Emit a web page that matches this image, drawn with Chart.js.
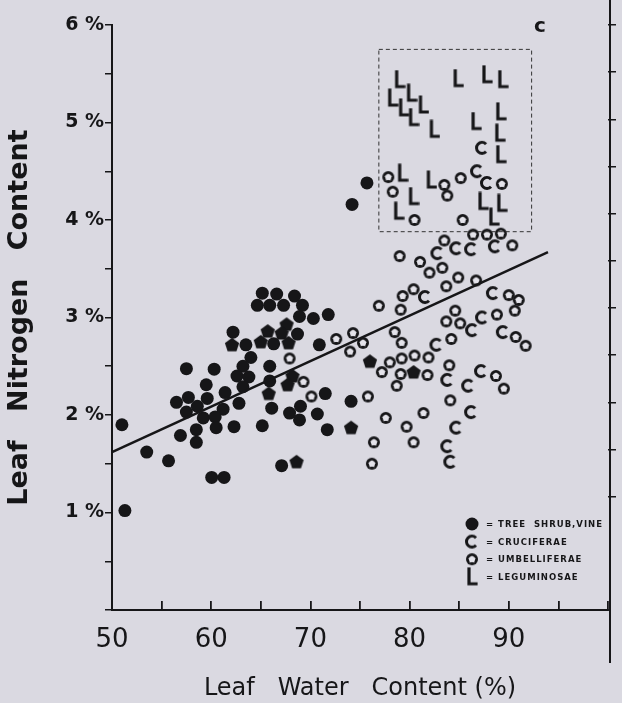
<!DOCTYPE html>
<html>
<head>
<meta charset="utf-8">
<script src="https://cdn.jsdelivr.net/npm/chart.js@4.4.1/dist/chart.umd.min.js"></script>
<style>
  html, body { margin: 0; padding: 0; background: #dad9e1; }
  #wrap { width: 622px; height: 703px; }
</style>
</head>
<body>
<div id="wrap"><canvas id="myChart" width="622" height="703"></canvas></div>
<script>
// tree, shrub, vine (filled circles)
const treeWater = [65.15, 66.6, 68.4, 64.65, 65.9, 67.3, 69.2, 68.9, 70.3, 71.8, 62.2, 63.5, 66.3, 68.7, 70.9,
    64.0, 63.2, 62.6, 63.8, 63.2, 65.9, 65.9, 57.5, 60.3, 59.5, 61.4, 56.5, 57.7, 59.6, 58.6, 57.5, 61.2, 62.8,
    59.2, 60.4, 58.5, 60.5, 62.3, 56.9, 58.5, 51.0, 53.5, 55.7, 60.05, 61.3, 65.15, 66.1, 67.9, 69.0, 68.9,
    70.7, 71.5, 71.7, 67.1, 74.1, 51.3, 75.7, 74.2];
const treeNitrogen = [3.25, 3.24, 3.22, 3.125, 3.125, 3.125, 3.125, 3.01, 2.99, 3.03, 2.85, 2.72, 2.73, 2.83, 2.72,
    2.59, 2.50, 2.40, 2.39, 2.29, 2.50, 2.35, 2.475, 2.47, 2.31, 2.23, 2.13, 2.18, 2.17, 2.09, 2.03, 2.06, 2.12,
    1.97, 1.98, 1.85, 1.87, 1.88, 1.79, 1.72, 1.90, 1.62, 1.53, 1.36, 1.36, 1.89, 2.07, 2.02, 2.09, 1.95,
    2.01, 2.22, 1.85, 1.48, 2.14, 1.02, 4.38, 4.16];

// filled pentagons (not in the key)
const pentaWater = [67.6, 65.7, 67.1, 62.1, 65.0, 67.8, 68.2, 67.7, 65.8, 68.6, 76.0, 80.4, 74.1];
const pentaNitrogen = [2.93, 2.86, 2.84, 2.72, 2.75, 2.74, 2.40, 2.31, 2.22, 1.52, 2.55, 2.44, 1.87];

// umbelliferae
const umbelWater = [79.0, 81.05, 82.0, 83.3, 83.5, 86.4, 87.8, 89.2, 90.35, 84.9, 86.7, 83.7, 80.4, 79.3, 76.9,
    79.1, 74.3, 72.6, 75.3, 74.0, 78.5, 79.2, 78.0, 77.2, 79.2, 80.5, 81.9, 79.1, 81.8, 78.7, 84.6, 83.7, 85.1,
    84.2, 88.8, 90.0, 91.0, 90.6, 90.7, 91.7, 84.0, 88.7, 89.5, 84.1, 70.1, 69.3, 67.9, 75.8, 77.6, 81.4, 79.7,
    76.4, 80.4, 76.2, 77.85, 78.3, 83.5, 83.8, 85.15, 89.3, 80.5, 85.35];
const umbelNitrogen = [3.63, 3.57, 3.46, 3.51, 3.79, 3.85, 3.85, 3.86, 3.74, 3.41, 3.38, 3.32, 3.29, 3.22, 3.12,
    3.08, 2.84, 2.78, 2.74, 2.65, 2.85, 2.74, 2.54, 2.44, 2.58, 2.61, 2.59, 2.42, 2.41, 2.30, 3.07, 2.96, 2.94,
    2.78, 3.03, 3.23, 3.18, 3.07, 2.80, 2.71, 2.51, 2.40, 2.27, 2.15, 2.19, 2.34, 2.58, 2.19, 1.97, 2.02, 1.88,
    1.72, 1.72, 1.50, 4.44, 4.29, 4.36, 4.25, 4.43, 4.37, 4.00, 4.00];

// cruciferae
const cruciWater = [82.8, 84.7, 86.2, 88.6, 81.55, 88.4, 87.3, 86.3, 89.4, 82.7, 87.2, 83.8, 85.9, 86.2, 84.7,
    83.8, 84.1, 87.3, 86.8, 87.8];
const cruciNitrogen = [3.66, 3.71, 3.70, 3.73, 3.21, 3.25, 3.00, 2.87, 2.85, 2.72, 2.45, 2.36, 2.30, 2.03, 1.87,
    1.68, 1.52, 4.74, 4.50, 4.38];

// leguminosae
const legumWater = [79.0, 80.2, 78.3, 79.4, 81.4, 80.4, 82.5, 84.9, 87.8, 89.4, 86.7, 89.2, 89.1, 89.2, 79.3,
    82.2, 80.4, 78.9, 87.4, 89.3, 88.5];
const legumNitrogen = [5.44, 5.30, 5.25, 5.15, 5.18, 5.05, 4.93, 5.45, 5.49, 5.44, 5.01, 5.11, 4.89, 4.67, 4.48,
    4.41, 4.24, 4.09, 4.19, 4.17, 4.03];

// regression line and dashed box (data units)
const fitWater = [50, 93.95];
const fitNitrogen = [1.62, 3.67];
const boxWater = [76.9, 92.3, 92.3, 76.9, 76.9];
const boxNitrogen = [5.75, 5.75, 3.88, 3.88, 5.75];

const xTicks = [50, 60, 70, 80, 90];
const yTicks = [1, 2, 3, 4, 5, 6];
const legendLabels = ['= TREE  SHRUB,VINE', '= CRUCIFERAE', '= UMBELLIFERAE', '= LEGUMINOSAE'];

const BG = '#dad9e1';
const INK = '#161618';

const zip = (xs, ys) => xs.map((x, i) => ({ x: x, y: ys[i] }));

const makeCanvas = (w, h, draw) => {
    const c = document.createElement('canvas');
    c.width = w;
    c.height = h;
    draw(c.getContext('2d'));
    return c;
}

const starPath = (ctx, cx, cy, ro, ri) => {
    ctx.beginPath();
    for (let i = 0; i < 10; i++) {
        const r = i % 2 === 0 ? ro : ri;
        const a = -Math.PI / 2 + i * Math.PI / 5;
        ctx.lineTo(cx + r * Math.cos(a), cy + r * Math.sin(a));
    }
    ctx.closePath();
}

const pentagon = makeCanvas(16, 16, (ctx) => {
    ctx.fillStyle = INK;
    ctx.beginPath();
    for (let i = 0; i < 5; i++) {
        const a = -Math.PI / 2 + i * 2 * Math.PI / 5;
        ctx.lineTo(8 + 7.5 * Math.cos(a), 8.5 + 7.5 * Math.sin(a));
    }
    ctx.closePath();
    ctx.fill();
});

// ring with a star-shaped hole
const umbel = makeCanvas(14, 14, (ctx) => {
    ctx.fillStyle = INK;
    ctx.beginPath();
    ctx.arc(7, 7, 6, 0, Math.PI * 2);
    ctx.fill();
    ctx.fillStyle = '#e4e3ea';
    ctx.beginPath();
    ctx.arc(7, 7, 3, 0, Math.PI * 2);
    ctx.fill();
    starPath(ctx, 7, 7.3, 4.1, 2.3);
    ctx.fill();
});

const cMark = makeCanvas(16, 16, (ctx) => {
    ctx.strokeStyle = INK;
    ctx.lineWidth = 3;
    ctx.beginPath();
    ctx.arc(8, 8, 5.5, Math.PI * 0.24, Math.PI * 1.76);
    ctx.stroke();
});

const lMark = makeCanvas(12, 20, (ctx) => {
    ctx.strokeStyle = INK;
    ctx.lineWidth = 3.2;
    ctx.lineCap = 'square';
    ctx.beginPath();
    ctx.moveTo(3, 2);
    ctx.lineTo(3, 17);
    ctx.lineTo(10, 17);
    ctx.stroke();
});

const background = {
    id: 'background',
    beforeDraw: (chart) => {
        const ctx = chart.ctx;
        ctx.save();
        ctx.fillStyle = BG;
        ctx.fillRect(0, 0, chart.width, chart.height);
        ctx.restore();
    }
};

// right frame line running past the plot, panel letter and the key
const extras = {
    id: 'extras',
    afterDraw: (chart) => {
        const ctx = chart.ctx;
        const area = chart.chartArea;
        ctx.save();
        ctx.strokeStyle = INK;
        ctx.lineWidth = 2;
        ctx.beginPath();
        ctx.moveTo(area.right + 2, 0);
        ctx.lineTo(area.right + 2, area.bottom + 53);
        ctx.stroke();

        ctx.fillStyle = INK;
        ctx.font = 'bold 20px "DejaVu Sans"';
        ctx.textAlign = 'center';
        ctx.textBaseline = 'middle';
        ctx.fillText('c', area.right - 68, area.top + 2);

        const icons = ['dot', cMark, umbel, lMark];
        ctx.font = 'bold 8.5px "DejaVu Sans"';
        ctx.textAlign = 'left';
        if ('letterSpacing' in ctx) ctx.letterSpacing = '1px';
        icons.forEach((icon, i) => {
            const cy = area.bottom - 86 + i * 17.6;
            const cx = area.right - 136;
            if (icon === 'dot') {
                ctx.beginPath();
                ctx.arc(cx, cy, 6.5, 0, Math.PI * 2);
                ctx.fill();
            } else {
                ctx.drawImage(icon, cx - icon.width / 2, cy - icon.height / 2);
            }
            ctx.fillText(legendLabels[i], cx + 14, cy + 1);
        });
        ctx.restore();
    }
};

const ctx = document.getElementById('myChart').getContext('2d');
const myChart = new Chart(ctx, {
    type: 'scatter',
    data: {
        datasets: [
            {
                type: 'line',
                data: zip(boxWater, boxNitrogen),
                borderColor: '#333',
                borderWidth: 1,
                borderDash: [4, 3],
                pointRadius: 0,
                fill: false
            },
            {
                type: 'line',
                data: zip(fitWater, fitNitrogen),
                borderColor: INK,
                borderWidth: 2.5,
                pointRadius: 0,
                fill: false
            },
            {
                label: 'Tree shrub, vine',
                data: zip(treeWater, treeNitrogen),
                pointStyle: 'circle',
                pointRadius: 6.5,
                backgroundColor: INK,
                borderWidth: 0
            },
            {
                data: zip(pentaWater, pentaNitrogen),
                pointStyle: pentagon
            },
            {
                label: 'Umbelliferae',
                data: zip(umbelWater, umbelNitrogen),
                pointStyle: umbel
            },
            {
                label: 'Cruciferae',
                data: zip(cruciWater, cruciNitrogen),
                pointStyle: cMark
            },
            {
                label: 'Leguminosae',
                data: zip(legumWater, legumNitrogen),
                pointStyle: lMark
            }
        ]
    },
    options: {
        responsive: false,
        animation: false,
        events: [],
        layout: { padding: { top: 25, right: 0, bottom: 0, left: 0 } },
        plugins: {
            legend: { display: false },
            tooltip: { enabled: false }
        },
        scales: {
            x: {
                type: 'linear',
                min: 50,
                max: 100,
                afterFit: (scale) => {
                    scale.height = 93;
                    scale.paddingLeft = 0;
                    scale.paddingRight = 0;
                },
                ticks: {
                    stepSize: 5,
                    autoSkip: false,
                    maxRotation: 0,
                    padding: 24,
                    color: INK,
                    font: { family: 'DejaVu Sans', size: 26 },
                    callback: (v) => xTicks.includes(v) ? String(v) : ''
                },
                grid: { drawOnChartArea: false, tickLength: -9, color: INK, lineWidth: 1.8 },
                border: { color: INK, width: 2 },
                title: {
                    display: true,
                    text: 'Leaf   Water   Content (%)',
                    color: INK,
                    padding: { top: 0, bottom: 0 },
                    font: { family: 'DejaVu Sans', size: 24 }
                }
            },
            y: {
                position: 'left',
                min: 0,
                max: 6,
                afterFit: (scale) => { scale.width = 112; },
                ticks: {
                    stepSize: 0.5,
                    autoSkip: false,
                    padding: 1,
                    color: INK,
                    font: { family: 'DejaVu Sans', size: 19, weight: 'bold' },
                    callback: (v) => yTicks.includes(v) ? v + ' %' : ''
                },
                grid: { drawOnChartArea: false, tickLength: 7, color: INK, lineWidth: 1.5 },
                border: { color: INK, width: 2 },
                title: {
                    display: true,
                    text: 'Leaf   Nitrogen   Content',
                    color: INK,
                    padding: { top: 4, bottom: 0 },
                    font: { family: 'DejaVu Sans', size: 27, weight: 'bold' }
                }
            },
            y2: {
                position: 'right',
                min: -0.2,
                max: 6,
                afterFit: (scale) => { scale.width = 14; },
                afterBuildTicks: (scale) => {
                    scale.ticks = scale.ticks.filter((t) => t.value >= 1);
                },
                ticks: { stepSize: 0.5, display: false },
                grid: { drawOnChartArea: false, tickLength: 8, color: INK, lineWidth: 1.5 },
                border: { display: false }
            }
        }
    },
    plugins: [background, extras]
});
</script>
</body>
</html>
